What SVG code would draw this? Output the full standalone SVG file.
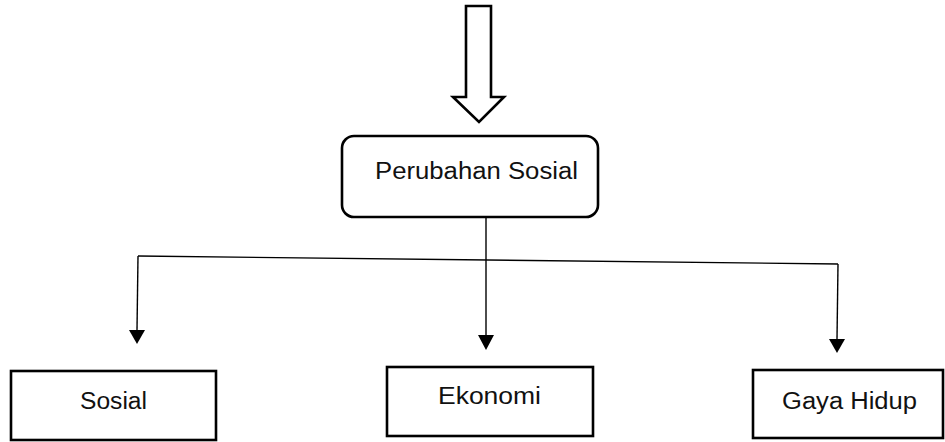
<svg xmlns="http://www.w3.org/2000/svg" width="945" height="442" viewBox="0 0 945 442">
<style>
.box{fill:#fff;stroke:#000;stroke-width:2.6}
.lbl{font-family:"Liberation Sans",Arial,sans-serif;font-size:23px;fill:#111}
.con{fill:none;stroke:#000;stroke-width:1.4}
.head{fill:#000}
</style>
<g id="big-arrow">
<polygon points="466,6 491,6 491,97 504,97 479,122 453,97 466,97" fill="#fff" stroke="#000" stroke-width="2.6" stroke-linejoin="miter"/>
</g>
<g id="connectors">
<line class="con" x1="138" y1="256" x2="838" y2="264"/>
<path d="M138,256 L137,330" class="con"/>
<polygon class="head" points="129,330 145,330 137,344"/>
<path d="M486,217 L486,335" class="con"/>
<polygon class="head" points="478,335 494,335 486,350"/>
<path d="M838,264 L837,339" class="con"/>
<polygon class="head" points="829,339 845,339 837,353"/>
</g>
<g id="node-perubahan">
<rect class="box" x="342" y="136" width="256" height="81" rx="12" ry="12"/>
<text class="lbl" x="375" y="179" textLength="203" lengthAdjust="spacingAndGlyphs">Perubahan Sosial</text>
</g>
<g id="node-sosial">
<rect class="box" x="11" y="371" width="205" height="69"/>
<text class="lbl" x="80" y="409" textLength="67" lengthAdjust="spacingAndGlyphs">Sosial</text>
</g>
<g id="node-ekonomi">
<rect class="box" x="387" y="367" width="206" height="69"/>
<text class="lbl" x="438" y="404" textLength="103" lengthAdjust="spacingAndGlyphs">Ekonomi</text>
</g>
<g id="node-gaya">
<rect class="box" x="753" y="370" width="190" height="68"/>
<text class="lbl" x="782" y="409" textLength="135" lengthAdjust="spacingAndGlyphs">Gaya Hidup</text>
</g>
</svg>
